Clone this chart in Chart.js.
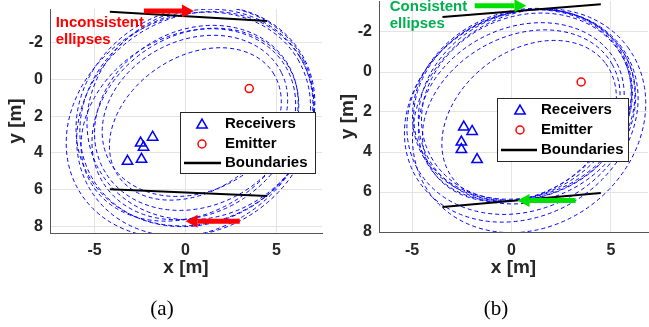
<!DOCTYPE html>
<html lang="en">
<head>
<meta charset="utf-8">
<title>Ellipses</title>
<script src="https://cdn.jsdelivr.net/npm/chart.js@4.4.0/dist/chart.umd.min.js"></script>
<style>
  body { margin: 0; background: #fff; }
  #wrap { position: relative; width: 649px; height: 327px; overflow: hidden; }
  canvas { position: absolute; top: 0; }
  .cap { position: absolute; top: 308px; transform: translate(-50%, -50%);
         font-family: "Liberation Serif", serif; font-size: 21px; color: #000; }
</style>
</head>
<body>
<div id="wrap">
  <canvas id="pa" width="325" height="327" style="left:0"></canvas>
  <canvas id="pb" width="324" height="327" style="left:325px"></canvas>
  <div class="cap" style="left:162px">(a)</div>
  <div class="cap" style="left:496px">(b)</div>
</div>
<script>
// tick values
const xTicks = [-5, 0, 5];
const yTicks = [-2, 0, 2, 4, 6, 8];

// panel (a): inconsistent
const rxAX = [-2.47, -2.31, -1.81, -3.19, -2.42];
const rxAY = [3.47, 3.69, 3.15, 4.46, 4.35];
const emAX = [3.5];
const emAY = [0.5];
const wallAX = [[-4.16, 4.49], [-4.16, 4.49]];
const wallAY = [[-3.69, -3.18], [5.98, 6.35]];
// ellipse = receiver index (focus 1, emitter is focus 2) + path length
const ellRxA = [4, 0, 1, 3, 4, 2, 1, 0, 4, 3];
const ellLenA = [10.2, 10.62, 11.64, 12.44, 12.0, 12.8, 13.2, 13.4, 13.6, 14.0];
const arrAX0 = [-2.29, 2.98], arrAY0 = [-3.73, 7.73];
const arrAX1 = [0.46, 0.0],   arrAY1 = [-3.73, 7.73];

// panel (b): consistent
const rxBX = [-2.40, -1.98, -2.52, -2.52, -1.73];
const rxBY = [2.75, 2.97, 3.50, 3.88, 4.38];
const emBX = [3.5];
const emBY = [0.5];
const wallBX = [[-3.47, 4.49], [-3.47, 4.49]];
const wallBY = [[-2.75, -3.39], [6.75, 6.05]];
const ellRxB = [0, 0, 1, 1, 2, 2, 3, 3, 4, 4];
const ellLenB = [11.16, 11.28, 11.16, 10.85, 11.88, 10.77, 12.22, 10.49, 12.35, 9.59];
const arrBX0 = [-1.85, 3.22], arrBY0 = [-3.31, 6.42];
const arrBX1 = [0.75, 0.30],  arrBY1 = [-3.31, 6.42];

Chart.defaults.font.family = '"Liberation Sans", Arial, sans-serif';
Chart.defaults.color = '#262626';

function pts(xs, ys) { return xs.map((x, i) => ({x: x, y: ys[i]})); }

// no extra room for labels at the ends, the chart area is set by layout padding
function noPad(s) { s.paddingTop = 0; s.paddingBottom = 0; s.paddingLeft = 0; s.paddingRight = 0; }

const panelPlugin = {
  id: 'panel',
  beforeDatasetsDraw(chart, args, o) {
    const ctx = chart.ctx, xs = chart.scales.x, ys = chart.scales.y, ca = chart.chartArea;
    const sx = xs.getPixelForValue(1) - xs.getPixelForValue(0);
    const sy = ys.getPixelForValue(1) - ys.getPixelForValue(0);
    ctx.save();
    ctx.beginPath();
    ctx.rect(ca.left, ca.top, ca.right - ca.left, ca.bottom - ca.top);
    ctx.clip();
    ctx.strokeStyle = '#0000ff';
    ctx.lineWidth = 1;
    ctx.setLineDash([4, 3]);
    o.ellRx.forEach((r, i) => {
      const fx = o.rxX[r], fy = o.rxY[r], ex = o.emX[0], ey = o.emY[0];
      const c = Math.hypot(ex - fx, ey - fy) / 2;
      const a = o.ellLen[i] / 2;
      const b = Math.sqrt(a * a - c * c);
      const th = Math.atan2(ey - fy, ex - fx);
      ctx.save();
      ctx.translate(xs.getPixelForValue((fx + ex) / 2), ys.getPixelForValue((fy + ey) / 2));
      ctx.scale(sx, sy);
      ctx.rotate(th);
      ctx.beginPath();
      ctx.ellipse(0, 0, a, b, 0, 0, 2 * Math.PI);
      ctx.restore();
      ctx.stroke();
    });
    ctx.restore();
  },
  afterDatasetsDraw(chart, args, o) {
    const ctx = chart.ctx, xs = chart.scales.x, ys = chart.scales.y;
    // arrows
    ctx.save();
    ctx.fillStyle = o.arrowColor;
    ctx.strokeStyle = o.arrowColor;
    o.ax0.forEach((v, i) => {
      const x0 = xs.getPixelForValue(v), y0 = ys.getPixelForValue(o.ay0[i]);
      const x1 = xs.getPixelForValue(o.ax1[i]), y1 = ys.getPixelForValue(o.ay1[i]);
      const L = Math.hypot(x1 - x0, y1 - y0), ux = (x1 - x0) / L, uy = (y1 - y0) / L;
      const hl = 12, hw = 6.5;
      ctx.lineWidth = 5;
      ctx.beginPath();
      ctx.moveTo(x0, y0);
      ctx.lineTo(x1 - ux * hl, y1 - uy * hl);
      ctx.stroke();
      ctx.beginPath();
      ctx.moveTo(x1, y1);
      ctx.lineTo(x1 - ux * hl - uy * hw, y1 - uy * hl + ux * hw);
      ctx.lineTo(x1 - ux * hl + uy * hw, y1 - uy * hl - ux * hw);
      ctx.closePath();
      ctx.fill();
    });
    // note text
    ctx.font = 'bold 15px "Liberation Sans", Arial, sans-serif';
    ctx.fillStyle = o.noteColor;
    ctx.textAlign = 'left';
    ctx.textBaseline = 'alphabetic';
    o.note.forEach((t, i) => {
      ctx.fillText(t, xs.getPixelForValue(o.noteX), ys.getPixelForValue(o.noteY[i]));
    });
    // legend
    const lg = o.legend;
    ctx.fillStyle = '#fff';
    ctx.fillRect(lg.x, lg.y, lg.w, lg.h);
    ctx.strokeStyle = '#262626';
    ctx.lineWidth = 1;
    ctx.strokeRect(lg.x + 0.5, lg.y + 0.5, lg.w, lg.h);
    ctx.font = 'bold 15px "Liberation Sans", Arial, sans-serif';
    ctx.textBaseline = 'middle';
    const labels = ['Receivers', 'Emitter', 'Boundaries'];
    labels.forEach((t, i) => {
      ctx.fillStyle = '#000';
      ctx.fillText(t, lg.tx, lg.rows[i]);
    });
    ctx.fillStyle = 'rgba(0,0,0,0)';
    ctx.strokeStyle = '#0000ff';
    ctx.lineWidth = 1.5;
    Chart.helpers.drawPoint(ctx, {pointStyle: 'triangle', radius: 6, borderWidth: 1.5}, lg.mx, lg.rows[0] + 1);
    ctx.strokeStyle = '#ff0000';
    Chart.helpers.drawPoint(ctx, {pointStyle: 'circle', radius: 4, borderWidth: 1.5}, lg.mx, lg.rows[1]);
    ctx.strokeStyle = '#000';
    ctx.lineWidth = 2.5;
    ctx.beginPath();
    ctx.moveTo(lg.l0, lg.rows[2]);
    ctx.lineTo(lg.l1, lg.rows[2]);
    ctx.stroke();
    ctx.restore();
  }
};

function makeChart(id, p) {
  const walls = p.wallX.map((wx, k) => ({
    label: 'Boundaries', data: pts(wx, p.wallY[k]), showLine: true,
    borderColor: '#000', borderWidth: 2, pointRadius: 0, order: 3
  }));
  return new Chart(document.getElementById(id), {
    type: 'scatter',
    data: {
      datasets: walls.concat([
        { label: 'Receivers', data: pts(p.rxX, p.rxY), pointStyle: 'triangle', pointRadius: 6,
          borderColor: '#0000ff', backgroundColor: 'rgba(0,0,0,0)', borderWidth: 1.5, order: 1 },
        { label: 'Emitter', data: pts(p.emX, p.emY), pointStyle: 'circle', pointRadius: 4,
          borderColor: '#ff0000', backgroundColor: 'rgba(0,0,0,0)', borderWidth: 1.5, order: 2 }
      ])
    },
    options: {
      responsive: false,
      animation: false,
      layout: { padding: p.pad, autoPadding: false },
      plugins: {
        legend: { display: false },
        tooltip: { enabled: false },
        panel: {
          ellRx: p.ellRx, ellLen: p.ellLen, rxX: p.rxX, rxY: p.rxY, emX: p.emX, emY: p.emY,
          ax0: p.ax0, ay0: p.ay0, ax1: p.ax1, ay1: p.ay1, arrowColor: p.arrowColor,
          note: p.note, noteX: p.noteX, noteY: p.noteY, noteColor: p.noteColor,
          legend: p.legend
        }
      },
      scales: {
        x: {
          type: 'linear', min: p.xMin, max: p.xMax,
          afterBuildTicks: s => { s.ticks = xTicks.map(v => ({value: v})); },
          afterFit: s => { s.height = p.xH; noPad(s); },
          grid: { color: '#e4e4e4', drawTicks: false },
          border: { color: '#555', width: 1 },
          ticks: { font: { size: 16, weight: 'bold' }, padding: p.xPad, color: '#262626' },
          title: { display: true, text: 'x [m]', font: { size: 19, weight: 'bold' }, padding: 0, color: '#262626' }
        },
        y: {
          type: 'linear', reverse: true, min: p.yMin, max: p.yMax,
          afterBuildTicks: s => { s.ticks = yTicks.map(v => ({value: v})); },
          afterFit: s => { s.width = p.yW; noPad(s); },
          grid: { color: '#e4e4e4', drawTicks: false },
          border: { color: '#555', width: 1 },
          ticks: { font: { size: 16, weight: 'bold' }, padding: 7, color: '#262626' },
          title: { display: true, text: 'y [m]', font: { size: 19, weight: 'bold' }, padding: { top: p.yTitlePad, bottom: 0 }, color: '#262626' }
        }
      }
    },
    plugins: [panelPlugin]
  });
}

makeChart('pa', {
  rxX: rxAX, rxY: rxAY, emX: emAX, emY: emAY, wallX: wallAX, wallY: wallAY,
  ellRx: ellRxA, ellLen: ellLenA,
  ax0: arrAX0, ay0: arrAY0, ax1: arrAX1, ay1: arrAY1, arrowColor: '#ff0000',
  note: ['Inconsistent', 'ellipses'], noteX: -7.14, noteY: [-2.84, -1.91], noteColor: '#ff0000',
  legend: { x: 180, y: 112, w: 135, h: 61, rows: [124, 144, 163], mx: 202, l0: 184, l1: 221, tx: 225 },
  pad: { left: 0, right: 3, top: 9, bottom: 48 },
  xMin: -7.45, xMax: 7.5, yMin: -3.84, yMax: 8.37, xH: 46, yW: 50, xPad: 8, yTitlePad: 4
});

makeChart('pb', {
  rxX: rxBX, rxY: rxBY, emX: emBX, emY: emBY, wallX: wallBX, wallY: wallBY,
  ellRx: ellRxB, ellLen: ellLenB,
  ax0: arrBX0, ay0: arrBY0, ax1: arrBX1, ay1: arrBY1, arrowColor: '#00e000',
  note: ['Consistent', 'ellipses'], noteX: -6.12, noteY: [-3.04, -2.21], noteColor: '#00b050',
  legend: { x: 172, y: 98, w: 131, h: 63, rows: [110, 130, 150], mx: 195, l0: 176, l1: 212, tx: 216 },
  pad: { left: 0, right: 1, top: 1, bottom: 48 },
  xMin: -6.66, xMax: 6.86, yMin: -3.55, yMax: 8.0, xH: 47, yW: 54, xPad: 9, yTitlePad: 11
});
</script>
</body>
</html>
